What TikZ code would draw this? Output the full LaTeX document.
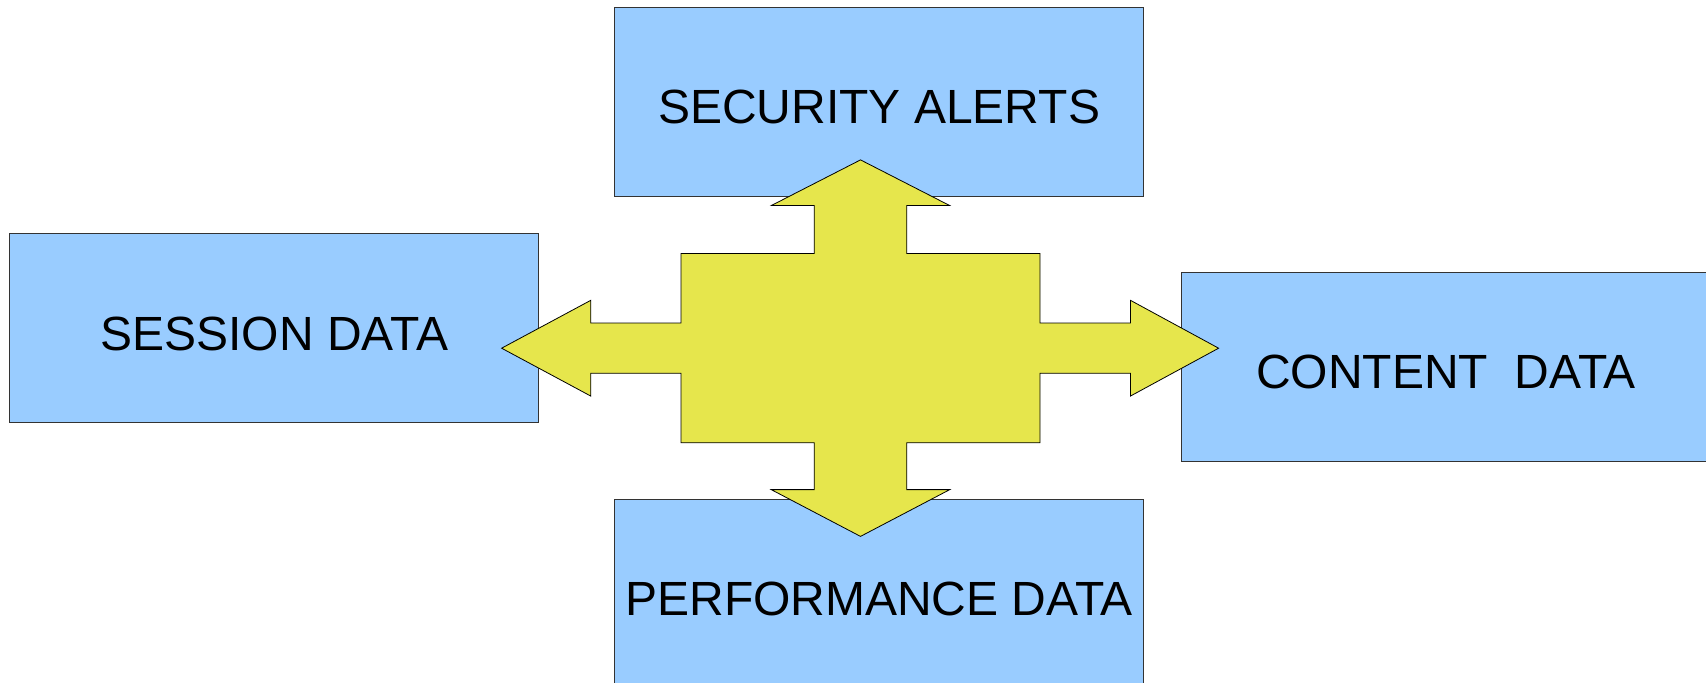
\documentclass[tikz,border=0pt]{standalone}
\usepackage{fontspec}
\setmainfont{Liberation Sans}
\definecolor{boxblue}{HTML}{99CCFF}
\definecolor{arrowyellow}{HTML}{E6E64C}
\tikzset{
  databox/.style={draw=black!80, line width=0.5pt, fill=boxblue, minimum width=264.4pt, minimum height=94.5pt, inner sep=0pt, text height=21.8pt, text depth=0pt, font=\fontsize{24}{28}\selectfont, text=black},
  bigarrow/.style={draw=black, line width=0.4pt, fill=arrowyellow, line join=miter}
}
\begin{document}
\begin{tikzpicture}[x=0.5pt, y=-0.5pt]
\useasboundingbox (0,0) rectangle (1706,683);
\clip (0,0) rectangle (1706,683);
\node[databox] (sec)  at (879.1,101.7) {SECURITY ALERTS};
\node[databox] (sess) at (274.2,328.5) {SESSION DATA};
\node[databox] (cont) at (1446,366.6) {CONTENT~~DATA};
\node[databox] (perf) at (879.1,594) {PERFORMANCE DATA};
\coordinate (c) at (860.5,348.2);
\draw[bigarrow] (860.5,159.9) -- (949.8,205.6) -- (906.8,205.6) -- (906.8,253.5)
  -- (1040,253.5) -- (1040,323.1) -- (1130.4,323.1) -- (1130.4,300.3)
  -- (1218.6,348.2) -- (1130.4,396.1) -- (1130.4,373.3) -- (1040,373.3)
  -- (1040,442.8) -- (906.8,442.8) -- (906.8,489.6) -- (949.8,489.6)
  -- (860.5,536.4) -- (771.2,489.6) -- (814.2,489.6) -- (814.2,442.8)
  -- (681,442.8) -- (681,373.3) -- (590.8,373.3) -- (590.8,396.1)
  -- (501.6,348.2) -- (590.8,300.3) -- (590.8,323.1) -- (681,323.1)
  -- (681,253.5) -- (814.2,253.5) -- (814.2,205.6) -- (771.2,205.6) -- cycle;
\end{tikzpicture}
\end{document}
